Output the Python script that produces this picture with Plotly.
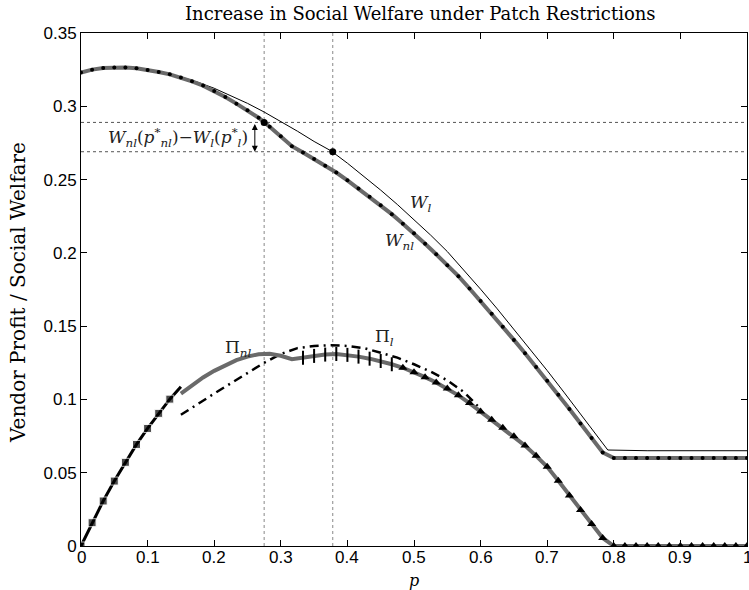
import plotly.graph_objects as go

# ---- data ----
# grid used by the marker-decorated curves: p = k/60
p60 = [k / 60 for k in range(61)]

# W_nl (gray thick with black dots), at p = k/60
W_nl = [0.3230, 0.3250, 0.3261, 0.3264, 0.3264, 0.3259, 0.3248, 0.3234, 0.3218, 0.3196,
        0.3170, 0.3141, 0.3104, 0.3063, 0.3018, 0.2973, 0.2922, 0.2860, 0.2795, 0.2728,
        0.2685, 0.2640, 0.2594, 0.2548, 0.2495, 0.2439, 0.2382, 0.2325, 0.2264, 0.2199,
        0.2133, 0.2062, 0.1990, 0.1916, 0.1841, 0.1757, 0.1671, 0.1585, 0.1496, 0.1406,
        0.1315, 0.1222, 0.1128, 0.1032, 0.0935, 0.0836, 0.0736, 0.0638, 0.0600, 0.0600,
        0.0600, 0.0600, 0.0600, 0.0600, 0.0600, 0.0600, 0.0600, 0.0600, 0.0600, 0.0600,
        0.0600]

# W_l (thin black)
p_Wl = [0.0, 0.025, 0.05, 0.075, 0.1, 0.125, 0.15, 0.175, 0.2, 0.225, 0.25, 0.275, 0.3,
        0.325, 0.35, 0.375, 0.4, 0.425, 0.45, 0.475, 0.5, 0.525, 0.55, 0.575, 0.6, 0.625,
        0.65, 0.675, 0.7, 0.725, 0.75, 0.775, 0.791, 0.85, 0.9, 0.95, 1.0]
W_l = [0.3230, 0.3257, 0.3265, 0.3263, 0.3250, 0.3228, 0.3200, 0.3165, 0.3123, 0.3073,
       0.3020, 0.2961, 0.2898, 0.2830, 0.2760, 0.2697, 0.2612, 0.2522, 0.2428, 0.2330,
       0.2228, 0.2121, 0.2009, 0.1884, 0.1752, 0.1618, 0.1480, 0.1340, 0.1197, 0.1050,
       0.0900, 0.0750, 0.0655, 0.0650, 0.0650, 0.0650, 0.0650]

# low-p profit branch (black with squares), p = k/60, k = 0..9
Pi_low = [0.0, 0.0159, 0.0307, 0.0443, 0.0571, 0.0693, 0.0802, 0.0905, 0.1002, 0.1086]

# Pi_nl (gray thick), p = k/60, k = 9..60
Pi_nl = [0.1040, 0.1098, 0.1150, 0.1195, 0.1235, 0.1268, 0.1292, 0.1308, 0.1312, 0.1298,
         0.1274, 0.1285, 0.1297, 0.1306, 0.1310, 0.1304, 0.1292, 0.1278, 0.1262, 0.1240,
         0.1216, 0.1186, 0.1152, 0.1115, 0.1075, 0.1028, 0.0975, 0.0918, 0.0862, 0.0806,
         0.0748, 0.0685, 0.0615, 0.0540, 0.0445, 0.0345, 0.0245, 0.0150, 0.0055, 0.0,
         0.0, 0.0, 0.0, 0.0, 0.0, 0.0, 0.0, 0.0, 0.0, 0.0, 0.0, 0.0]

# Pi_l (black dash-dot)
p_Pil = [0.15, 0.175, 0.2, 0.225, 0.25, 0.275, 0.3, 0.325, 0.35, 0.375, 0.4, 0.425, 0.45,
         0.475, 0.5, 0.525, 0.55, 0.575, 0.6]
Pi_l = [0.0895, 0.0970, 0.1040, 0.1110, 0.1180, 0.1250, 0.1310, 0.1350, 0.1365, 0.1370,
        0.1365, 0.1350, 0.1318, 0.1285, 0.1240, 0.1190, 0.1130, 0.1050, 0.0935]

p_star_nl, p_star_l = 0.275, 0.378
W_nl_star, W_l_star = 0.289, 0.269

x_ticks = [0, 0.1, 0.2, 0.3, 0.4, 0.5, 0.6, 0.7, 0.8, 0.9, 1]
x_labels = ["0", "0.1", "0.2", "0.3", "0.4", "0.5", "0.6", "0.7", "0.8", "0.9", "1"]
y_ticks = [0, 0.05, 0.1, 0.15, 0.2, 0.25, 0.3, 0.35]

# ---- figure ----
GRAY = "#6a6a6a"
SERIF = "DejaVu Serif"
SANS = "Liberation Sans"
W, H = 749, 590
ML, MR, MT, MB = 81, 2, 33, 44
PW, PH = W - ML - MR, H - MT - MB


def px(xp):
    return (xp - ML) / PW


def py(yp):
    return (H - MB - yp) / PH


p_pi = p60[9:]
fig = go.Figure()

fig.add_trace(go.Scatter(x=p_Pil, y=Pi_l, mode="lines",
                         line=dict(color="black", width=2.5, dash="9px,5px,2px,5px")))
fig.add_trace(go.Scatter(x=p_pi, y=Pi_nl, mode="lines",
                         line=dict(color=GRAY, width=4)))
fig.add_trace(go.Scatter(x=p60[20:29], y=Pi_nl[11:20], mode="markers",
                         marker=dict(symbol="line-ns", size=10,
                                     line=dict(color="black", width=2))))
fig.add_trace(go.Scatter(x=p60[29:], y=Pi_nl[20:], mode="markers",
                         marker=dict(symbol="triangle-up", size=8, color="black")))
fig.add_trace(go.Scatter(x=p60[:10], y=Pi_low, mode="lines+markers",
                         line=dict(color="black", width=3),
                         marker=dict(symbol="square", size=[8] * 9 + [0], color="black")))
fig.add_trace(go.Scatter(x=p_Wl, y=W_l, mode="lines",
                         line=dict(color="black", width=1)))
fig.add_trace(go.Scatter(x=p60, y=W_nl, mode="lines",
                         line=dict(color=GRAY, width=4)))
fig.add_trace(go.Scatter(x=p60, y=W_nl, mode="markers",
                         marker=dict(size=4, color="black")))
fig.add_trace(go.Scatter(x=[p_star_nl, p_star_l], y=[W_nl_star, W_l_star], mode="markers",
                         marker=dict(size=7, color="black")))

for xv in (p_star_nl, p_star_l):
    fig.add_shape(type="line", xref="x", yref="y", x0=xv, x1=xv, y0=0, y1=0.35,
                  line=dict(color="#888888", width=1, dash="dot"), layer="below")
for yv in (W_nl_star, W_l_star):
    fig.add_shape(type="line", xref="x", yref="y", x0=0, x1=1, y0=yv, y1=yv,
                  line=dict(color="#555555", width=1, dash="dot"), layer="below")

fig.add_annotation(x=0.261, y=W_l_star, ax=0.261, ay=W_nl_star, xref="x", yref="y",
                   axref="x", ayref="y", text="", showarrow=True, arrowhead=2,
                   arrowside="end+start", arrowsize=1.2, arrowwidth=1, arrowcolor="black")

txtfont = dict(family=SERIF, size=17, color="#222222")
fig.add_annotation(x=0.146, y=0.2785, xref="x", yref="y", showarrow=False,
                   text="<i>W</i><sub><i>nl</i></sub>(<i>p</i><sup>*</sup><sub><i>nl</i></sub>)−<i>W</i><sub><i>l</i></sub>(<i>p</i><sup>*</sup><sub><i>l</i></sub>)",
                   font=txtfont)
fig.add_annotation(x=0.51, y=0.2335, xref="x", yref="y", showarrow=False,
                   text="<i>W</i><sub><i>l</i></sub>", font=txtfont)
fig.add_annotation(x=0.478, y=0.2075, xref="x", yref="y", showarrow=False,
                   text="<i>W</i><sub><i>nl</i></sub>", font=txtfont)
fig.add_annotation(x=0.236, y=0.1345, xref="x", yref="y", showarrow=False,
                   text="Π<sub><i>nl</i></sub>", font=txtfont)
fig.add_annotation(x=0.456, y=0.1425, xref="x", yref="y", showarrow=False,
                   text="Π<sub><i>l</i></sub>", font=txtfont)

# x tick labels drawn as text so the edge label "1" stays visible
for xv, lab in zip(x_ticks, x_labels):
    fig.add_annotation(x=xv, y=py(557), xref="x", yref="paper", showarrow=False,
                       xanchor="center", yanchor="middle", text=lab,
                       font=dict(family=SANS, size=17, color="black"))

# title and axis titles placed by pixel position
fig.add_annotation(x=px(420.5), y=py(13), xref="paper", yref="paper", showarrow=False,
                   xanchor="center", yanchor="middle",
                   text="Increase in Social Welfare under Patch Restrictions",
                   font=dict(family=SERIF, size=18, color="black"))
fig.add_annotation(x=px(414), y=py(580), xref="paper", yref="paper", showarrow=False,
                   xanchor="center", yanchor="middle", text="<i>p</i>",
                   font=dict(family=SERIF, size=16, color="black"))
fig.add_annotation(x=px(18), y=py(293), xref="paper", yref="paper", showarrow=False,
                   xanchor="center", yanchor="middle", textangle=-90,
                   text="Vendor Profit / Social Welfare",
                   font=dict(family=SERIF, size=20, color="black"))

axis_common = dict(showline=True, linecolor="black", linewidth=1, mirror="allticks",
                   ticks="inside", ticklen=6, tickcolor="black", showgrid=False,
                   zeroline=False, automargin=False,
                   tickfont=dict(family=SANS, size=17, color="black"))

fig.update_layout(
    width=W, height=H,
    margin=dict(l=ML, r=MR, t=MT, b=MB, autoexpand=False),
    paper_bgcolor="white", plot_bgcolor="white",
    showlegend=False,
    xaxis=dict(range=[0, 1], tickvals=x_ticks, showticklabels=False, **axis_common),
    yaxis=dict(range=[0, 0.35], tickvals=y_ticks, **axis_common),
)

fig.write_html("out.html", config={"displayModeBar": False},
               post_script="document.body.style.margin='0';document.body.style.overflow='hidden';")
